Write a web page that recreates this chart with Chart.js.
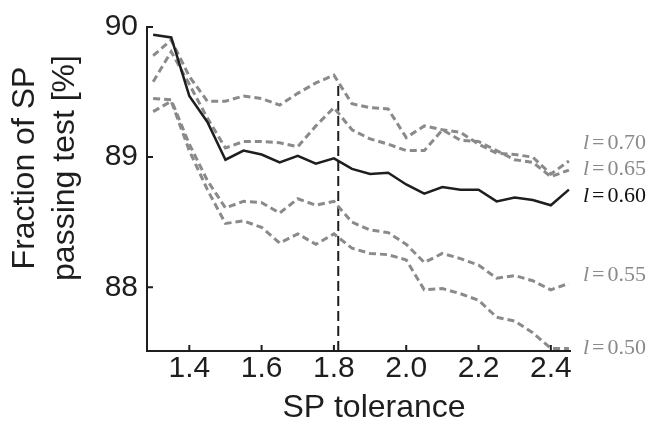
<!DOCTYPE html>
<html>
<head>
<meta charset="utf-8">
<script src="https://cdn.jsdelivr.net/npm/chart.js@4.4.1/dist/chart.umd.min.js"></script>
<style>
  html, body { margin: 0; padding: 0; background: #fff; }
  canvas { display: block; }
</style>
</head>
<body>
<canvas id="chart" width="651" height="423"></canvas>
<script>
// -------------------- DATA --------------------
const tolerance = [1.30, 1.35, 1.40, 1.45, 1.50, 1.55, 1.60, 1.65, 1.70, 1.75, 1.80, 1.85,
                   1.90, 1.95, 2.00, 2.05, 2.10, 2.15, 2.20, 2.25, 2.30, 2.35, 2.40, 2.45];

const l060 = [89.94, 89.92, 89.47, 89.27, 88.98, 89.05, 89.02, 88.96, 89.01, 88.95, 88.99, 88.91,
              88.87, 88.88, 88.79, 88.72, 88.77, 88.75, 88.75, 88.66, 88.69, 88.67, 88.63, 88.75];
const l070 = [89.78, 89.90, 89.62, 89.43, 89.43, 89.47, 89.45, 89.40, 89.49, 89.57, 89.63, 89.41,
              89.38, 89.37, 89.15, 89.24, 89.21, 89.19, 89.10, 89.03, 89.02, 89.00, 88.87, 88.97];
const l065 = [89.58, 89.81, 89.56, 89.30, 89.07, 89.12, 89.12, 89.11, 89.08, 89.24, 89.38, 89.21,
              89.14, 89.10, 89.05, 89.05, 89.21, 89.13, 89.12, 89.05, 88.98, 88.96, 88.85, 88.90];
const l055 = [89.45, 89.44, 89.10, 88.82, 88.61, 88.66, 88.65, 88.57, 88.68, 88.63, 88.66, 88.50,
              88.44, 88.42, 88.33, 88.19, 88.26, 88.22, 88.17, 88.07, 88.09, 88.05, 87.98, 88.03];
const l050 = [89.35, 89.43, 89.05, 88.75, 88.49, 88.51, 88.46, 88.34, 88.41, 88.33, 88.41, 88.30,
              88.26, 88.25, 88.21, 87.98, 87.99, 87.95, 87.90, 87.77, 87.74, 87.65, 87.53, 87.53];

const seriesNames = ["0.60", "0.70", "0.65", "0.55", "0.50"];
const labelAt = [88.70, 89.11, 88.91, 88.09, 87.53];   // where the l = ... text sits (y value)

const xTicks = [1.4, 1.6, 1.8, 2.0, 2.2, 2.4];
const yTicks = [88, 89, 90];
const chosenTol = [1.812, 1.812];
const chosenSpan = [87.51, 89.58];

const SANS = "'Liberation Sans', Arial, Helvetica, sans-serif";
const SERIF = "'Liberation Serif', 'Times New Roman', serif";
const GRAY = "#8a8a8a";
const INK = "#1e1e1e";

function pts(arr){ return tolerance.map((x,i)=>({x:x, y:arr[i]})); }

const grayLine = (label, arr) => ({
    label: label, data: pts(arr), borderColor: GRAY, borderWidth: 3,
    borderDash: [7,4], pointRadius: 0, tension: 0, fill: false
});

const datasets = [
    { label: "0.60", data: pts(l060), borderColor: INK, borderWidth: 2.5, pointRadius: 0, tension: 0, fill: false },
    grayLine("0.70", l070),
    grayLine("0.65", l065),
    grayLine("0.55", l055),
    grayLine("0.50", l050),
    { label: "chosen", data: chosenTol.map((x,i)=>({x:x, y:chosenSpan[i]})), borderColor: INK,
      borderWidth: 2, borderDash: [10,5], pointRadius: 0, fill: false }
];

// -------------------- EXTRA DRAWING --------------------
const decorations = {
    id: "decorations",
    afterDraw(chart){
        const {ctx, chartArea: a, scales: {x, y}} = chart;
        ctx.save();

        // inward tick marks
        ctx.strokeStyle = INK;
        ctx.lineWidth = 2;
        ctx.beginPath();
        xTicks.forEach(v=>{
            const px = x.getPixelForValue(v);
            ctx.moveTo(px, a.bottom); ctx.lineTo(px, a.bottom - 6);
        });
        yTicks.forEach(v=>{
            const py = y.getPixelForValue(v);
            ctx.moveTo(a.left, py); ctx.lineTo(a.left + 6, py);
        });
        ctx.stroke();

        // axis titles
        ctx.fillStyle = INK;
        ctx.font = "32px " + SANS;
        ctx.textAlign = "center";
        ctx.textBaseline = "alphabetic";
        ctx.fillText("SP tolerance", 374, 417);

        ctx.save();
        ctx.translate(0, 168);
        ctx.rotate(-Math.PI/2);
        ctx.fillText("Fraction of SP", 0, 34);
        ctx.fillText("passing test [%]", 0, 74);
        ctx.restore();

        // series labels
        ctx.textAlign = "left";
        ctx.textBaseline = "middle";
        seriesNames.forEach((name,i)=>{
            const py = y.getPixelForValue(labelAt[i]);
            const px = a.right + 13;
            ctx.fillStyle = name === "0.60" ? "#111" : GRAY;
            ctx.font = "italic 22px " + SERIF;
            ctx.fillText("l", px, py);
            const w = ctx.measureText("l").width;
            ctx.font = "22px " + SERIF;
            ctx.fillText("=", px + w + 3, py);
            const w2 = ctx.measureText("=").width;
            ctx.fillText("0" + name.slice(1), px + w + w2 + 6, py);
        });

        ctx.restore();
    }
};

// -------------------- CHART --------------------
new Chart(document.getElementById("chart").getContext("2d"), {
    type: "line",
    data: { datasets },
    options: {
        responsive: false,
        animation: false,
        layout: { padding: { top: 25, right: 81, left: 0, bottom: 0 } },
        plugins: { legend: { display: false }, tooltip: { enabled: false } },
        scales: {
            x: {
                type: "linear", min: 1.283, max: 2.453,
                afterFit(s){ s.height = 72; },
                afterBuildTicks(s){ s.ticks = xTicks.map(v=>({value:v})); },
                grid: { drawOnChartArea: false, drawTicks: false },
                border: { display: true, color: INK, width: 2 },
                ticks: { color: INK, padding: 0, font: { family: SANS, size: 30 },
                         callback: v => v.toFixed(1), maxRotation: 0, autoSkip: false }
            },
            y: {
                type: "linear", min: 87.51, max: 90,
                afterFit(s){ s.width = 147; },
                afterBuildTicks(s){ s.ticks = yTicks.map(v=>({value:v})); },
                grid: { drawOnChartArea: false, drawTicks: false },
                border: { display: true, color: INK, width: 2 },
                ticks: { color: INK, padding: 9, font: { family: SANS, size: 30 },
                         callback: v => String(v) }
            }
        }
    },
    plugins: [decorations]
});
</script>
</body>
</html>
